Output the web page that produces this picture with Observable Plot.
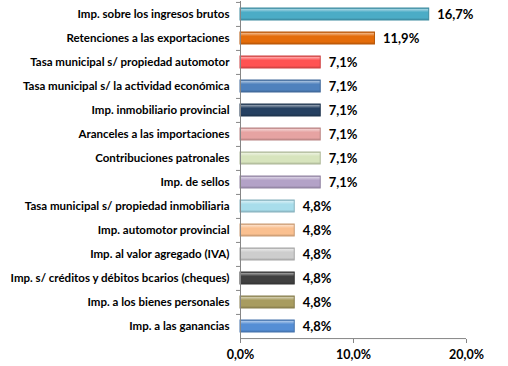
<!DOCTYPE html>
<html><head><meta charset="utf-8">
<script src="https://cdn.jsdelivr.net/npm/d3@7"></script>
<script src="https://cdn.jsdelivr.net/npm/@observablehq/plot@0.6"></script>
<style>body{margin:0;background:#fff}</style>
</head><body><div id="chart"></div>
<script>
const categories = [
  "Imp. sobre los ingresos brutos",
  "Retenciones a las exportaciones",
  "Tasa municipal s/ propiedad automotor",
  "Tasa municipal s/ la actividad económica",
  "Imp. inmobiliario provincial",
  "Aranceles a las importaciones",
  "Contribuciones patronales",
  "Imp. de sellos",
  "Tasa municipal s/ propiedad inmobiliaria",
  "Imp. automotor provincial",
  "Imp. al valor agregado (IVA)",
  "Imp. s/ créditos y débitos bcarios (cheques)",
  "Imp. a los bienes personales",
  "Imp. a las ganancias"
];
const values = [16.7, 11.9, 7.1, 7.1, 7.1, 7.1, 7.1, 7.1, 4.8, 4.8, 4.8, 4.8, 4.8, 4.8];
const colors = ["#4BACC6", "#E46C0A", "#FF5353", "#4F81BD", "#254061", "#E6A3A2", "#D7E4BD", "#B3A2C7", "#A8DDEB", "#FAC090", "#CDCDCD", "#404040", "#A89C60", "#558ED5"];
const xTicks = [0, 10, 20];

const data = categories.map((c, i) => ({
  name: c, value: values[i],
  grad: `url(#g${i})`,
  edge: d3.color(colors[i]).darker(0.6).formatHex()
}));
const fmt = v => v.toFixed(1).replace(".", ",") + "%";
const H = 366, MT = 1, MB = 27;
const step = (H - MT - MB) / categories.length;

const plot = Plot.plot({
  width: 508, height: H,
  marginLeft: 240, marginRight: 42, marginTop: MT, marginBottom: MB,
  style: {fontFamily: "Lato", fontWeight: "bold", fontSize: "11.5px", color: "#000", background: "#fff"},
  x: {domain: [0, 20], axis: null},
  y: {domain: categories, paddingInner: 0.5, paddingOuter: 0.25, axis: null},
  color: {type: "identity"},
  marks: [
    Plot.barX(data, {x: "value", y: "name", fill: "grad", stroke: "edge", strokeWidth: 1}),
    Plot.text(data, {x: "value", y: "name", text: d => fmt(d.value), textAnchor: "start", dx: 8, fontSize: 13, fill: "#000"}),
    Plot.axisY({tickSize: 0, tickPadding: 11, fill: "#000", fontSize: 11.5, label: null}),
    Plot.ruleY(categories, {y: d => d, x1: -0.35, x2: 0, dy: -step / 2, stroke: "#868686"}),
    Plot.ruleY(categories.slice(-1), {y: d => d, dy: step / 2, stroke: "#868686"}),
    Plot.ruleX(xTicks.slice(0, 1), {stroke: "#868686"}),
    Plot.axisX({ticks: xTicks, tickFormat: fmt, tickSize: 4, tickPadding: 7, stroke: "#868686", fill: "#000", fontSize: 12.5, label: null})
  ]
});

const defs = d3.select(plot).insert("defs", ":first-child");
colors.forEach((c, i) => {
  const base = d3.color(c);
  const light = d3.interpolateRgb(c, "#fff")(0.45);
  const dark = base.darker(0.5).formatHex();
  const g = defs.append("linearGradient").attr("id", `g${i}`).attr("x1", 0).attr("y1", 0).attr("x2", 0).attr("y2", 1);
  [[0, dark], [0.12, light], [0.35, c], [0.8, c], [1, dark]].forEach(([o, col]) =>
    g.append("stop").attr("offset", o).attr("stop-color", col));
});
document.getElementById("chart").append(plot);
</script>
</body></html>
